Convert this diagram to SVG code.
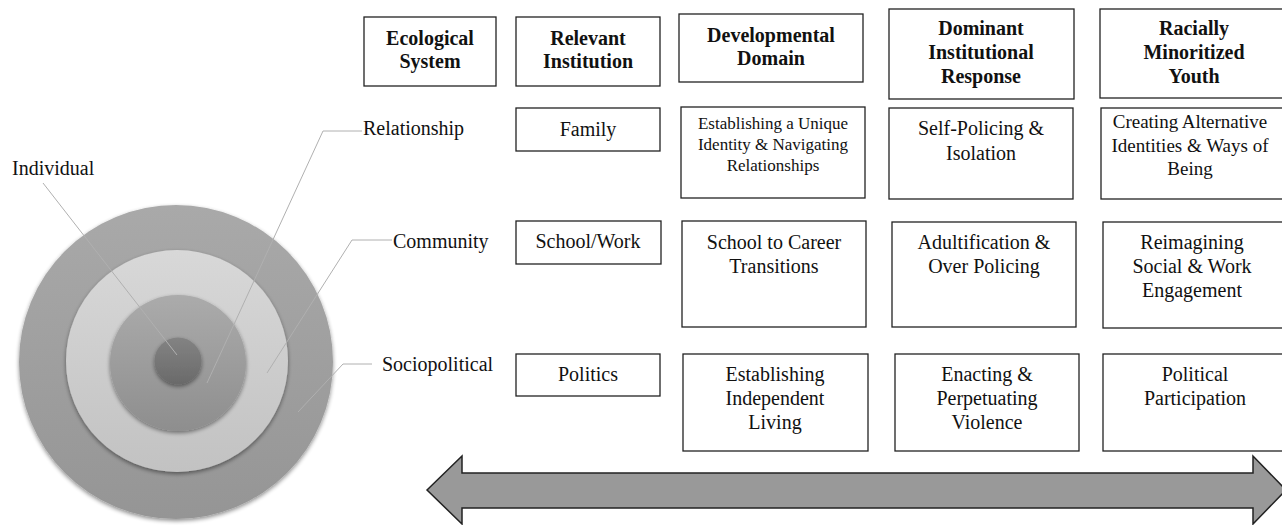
<svg xmlns="http://www.w3.org/2000/svg" width="1282" height="525" viewBox="0 0 1282 525">
<style>
.box{fill:#fff;stroke:#222;stroke-width:1.3}
.hd{font-family:"Liberation Serif","Times New Roman",serif;font-size:20px;font-weight:bold;fill:#111;text-anchor:middle}
.tx{font-family:"Liberation Serif","Times New Roman",serif;font-size:20px;fill:#111;text-anchor:middle}
.sm{font-size:17px}
.md{font-size:19px}
.lb{font-family:"Liberation Serif","Times New Roman",serif;font-size:20px;fill:#111}
.lead{fill:none;stroke:#b0b0b0;stroke-width:1}
.arrow{fill:#999;stroke:#222;stroke-width:1.5}
</style>
<defs>
<linearGradient id="gOuter" x1="0" y1="0" x2="0" y2="1"><stop offset="0" stop-color="#a9a9a9"/><stop offset="1" stop-color="#959595"/></linearGradient>
<linearGradient id="gLight" x1="0" y1="0" x2="0" y2="1"><stop offset="0" stop-color="#d8d8d8"/><stop offset="1" stop-color="#c2c2c2"/></linearGradient>
<linearGradient id="gMid" x1="0" y1="0" x2="0" y2="1"><stop offset="0" stop-color="#ababab"/><stop offset="1" stop-color="#8e8e8e"/></linearGradient>
<linearGradient id="gIn" x1="0" y1="0" x2="0" y2="1"><stop offset="0" stop-color="#838383"/><stop offset="1" stop-color="#6a6a6a"/></linearGradient>
<filter id="sh" x="-20%" y="-20%" width="140%" height="140%"><feGaussianBlur in="SourceAlpha" stdDeviation="2"/><feOffset dy="1.5"/><feComponentTransfer><feFuncA type="linear" slope="0.45"/></feComponentTransfer><feMerge><feMergeNode/><feMergeNode in="SourceGraphic"/></feMerge></filter>
</defs>
<g id="target">
<circle cx="176" cy="362" r="157" fill="url(#gOuter)" filter="url(#sh)"/>
<circle cx="177" cy="361" r="111" fill="url(#gLight)" filter="url(#sh)"/>
<circle cx="178" cy="363" r="68" fill="url(#gMid)" filter="url(#sh)"/>
<circle cx="178" cy="361" r="23.5" fill="url(#gIn)" filter="url(#sh)"/>
</g>
<g id="connectors">
<polyline class="lead" points="43,183 177,355"/>
<polyline class="lead" points="362,131 323,131 207,383"/>
<polyline class="lead" points="392,240 352,240 267,373"/>
<polyline class="lead" points="372,364 343,364 298,412"/>
</g>
<g id="labels">
<text class="lb" x="12" y="175">Individual</text>
<text class="lb" x="363" y="135">Relationship</text>
<text class="lb" x="393" y="248">Community</text>
<text class="lb" x="382" y="371">Sociopolitical</text>
</g>
<g id="h-ecological"><rect class="box" x="364" y="17" width="132" height="69"/><text class="hd" x="430" y="45">Ecological</text><text class="hd" x="430" y="68">System</text></g>
<g id="h-institution"><rect class="box" x="516" y="17" width="144" height="69"/><text class="hd" x="588" y="45">Relevant</text><text class="hd" x="588" y="68">Institution</text></g>
<g id="h-domain"><rect class="box" x="679" y="14" width="184" height="68"/><text class="hd" x="771" y="42">Developmental</text><text class="hd" x="771" y="65">Domain</text></g>
<g id="h-response"><rect class="box" x="889" y="9" width="185" height="90"/><text class="hd" x="981" y="35">Dominant</text><text class="hd" x="981" y="59">Institutional</text><text class="hd" x="981" y="83">Response</text></g>
<g id="h-youth"><rect class="box" x="1100" y="9" width="195" height="89"/><text class="hd" x="1194" y="35">Racially</text><text class="hd" x="1194" y="59">Minoritized</text><text class="hd" x="1194" y="83">Youth</text></g>
<g id="family"><rect class="box" x="516" y="108" width="144" height="43"/><text class="tx" x="588" y="136">Family</text></g>
<g id="identity"><rect class="box" x="681" y="107" width="184" height="91"/><text class="tx sm" x="773" y="129">Establishing a Unique</text><text class="tx sm" x="773" y="150">Identity &amp; Navigating</text><text class="tx sm" x="773" y="171">Relationships</text></g>
<g id="selfpolicing"><rect class="box" x="889" y="108" width="184" height="91"/><text class="tx" x="981" y="135">Self-Policing &amp;</text><text class="tx" x="981" y="160">Isolation</text></g>
<g id="alternative"><rect class="box" x="1101" y="108" width="195" height="91"/><text class="tx md" x="1190" y="128">Creating Alternative</text><text class="tx md" x="1190" y="152">Identities &amp; Ways of</text><text class="tx md" x="1190" y="175">Being</text></g>
<g id="schoolwork"><rect class="box" x="516" y="221" width="145" height="43"/><text class="tx" x="588" y="248">School/Work</text></g>
<g id="career"><rect class="box" x="682" y="221" width="184" height="106"/><text class="tx" x="774" y="249">School to Career</text><text class="tx" x="774" y="273">Transitions</text></g>
<g id="adultification"><rect class="box" x="892" y="222" width="184" height="105"/><text class="tx" x="984" y="249">Adultification &amp;</text><text class="tx" x="984" y="273">Over Policing</text></g>
<g id="reimagining"><rect class="box" x="1103" y="222" width="195" height="106"/><text class="tx" x="1192" y="249">Reimagining</text><text class="tx" x="1192" y="273">Social &amp; Work</text><text class="tx" x="1192" y="297">Engagement</text></g>
<g id="politics"><rect class="box" x="516" y="354" width="144" height="42"/><text class="tx" x="588" y="381">Politics</text></g>
<g id="living"><rect class="box" x="683" y="354" width="185" height="97"/><text class="tx" x="775" y="381">Establishing</text><text class="tx" x="775" y="405">Independent</text><text class="tx" x="775" y="429">Living</text></g>
<g id="violence"><rect class="box" x="895" y="354" width="184" height="97"/><text class="tx" x="987" y="381">Enacting &amp;</text><text class="tx" x="987" y="405">Perpetuating</text><text class="tx" x="987" y="429">Violence</text></g>
<g id="participation"><rect class="box" x="1103" y="354" width="195" height="97"/><text class="tx" x="1195" y="381">Political</text><text class="tx" x="1195" y="405">Participation</text></g>
<g id="double-arrow"><polygon class="arrow" points="427,490 462,456 462,473 1253,473 1253,456 1286,490 1253,524 1253,508 462,508 462,524"/></g>
</svg>
